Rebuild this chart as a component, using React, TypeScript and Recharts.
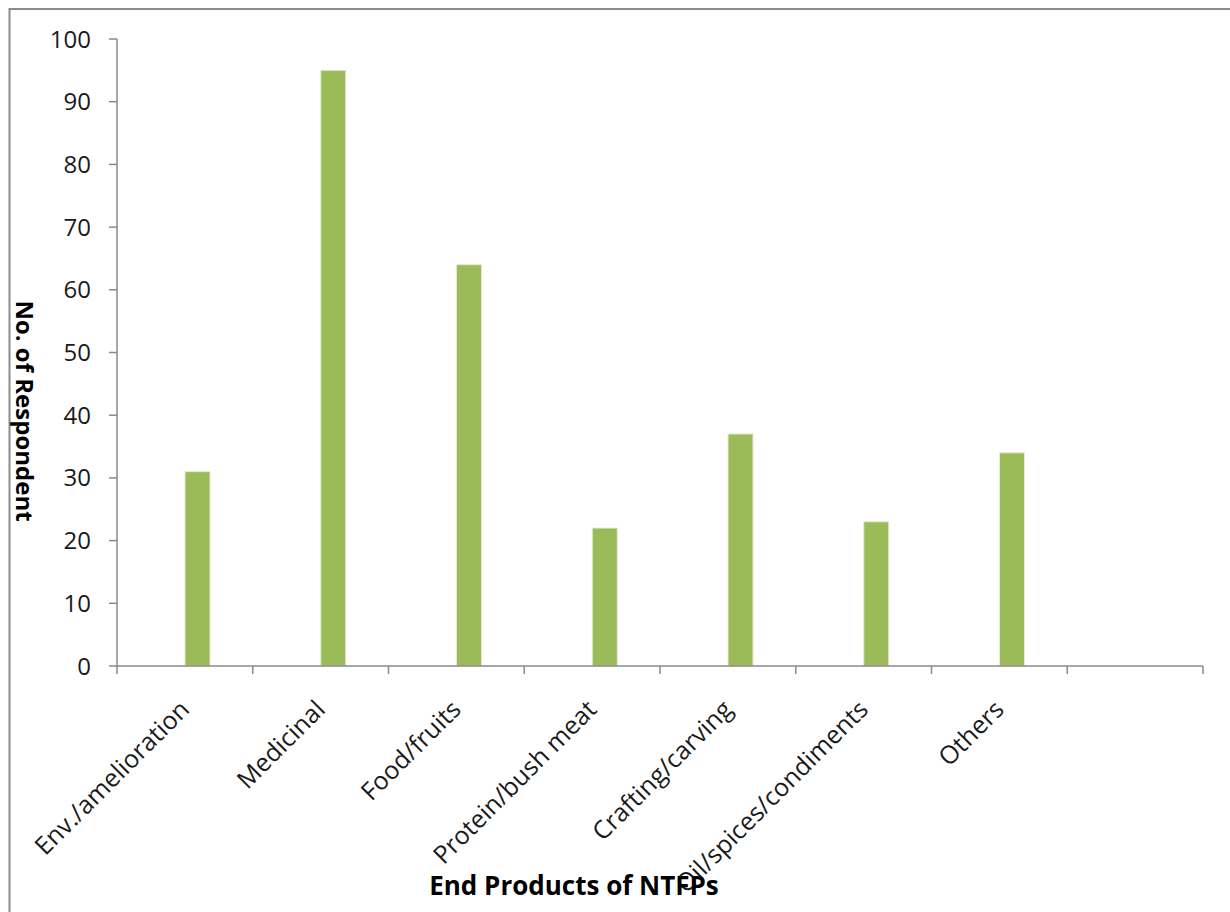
import { BarChart, Bar, XAxis, YAxis } from 'recharts'

const CATEGORIES = [
  'Env./amelioration',
  'Medicinal',
  'Food/fruits',
  'Protein/bush meat',
  'Crafting/carving',
  'Oil/spices/condiments',
  'Others',
  '',
]
// Excel sheet had an empty first series, which pushes the visible bar right of centre
const BLANK_SERIES: (number | null)[] = [null, null, null, null, null, null, null, null]
const RESPONDENTS: (number | null)[] = [31, 95, 64, 22, 37, 23, 34, null]
const Y_TICKS = [0, 10, 20, 30, 40, 50, 60, 70, 80, 90, 100]

const FONT = '"Open Sans", "Noto Sans", sans-serif'
const AXIS = '#8a8a8a'
const GREEN = '#9bbb59'

const data = CATEGORIES.map((name, i) => ({
  name,
  blank: BLANK_SERIES[i],
  value: RESPONDENTS[i],
}))

type TickProps = {
  x?: number
  y?: number
  index?: number
  visibleTicksCount?: number
  payload?: { value?: string; offset?: number }
}

// label rotated 45deg plus Excel-style tick marks on the category boundaries
function CatTick({ x, y, index, visibleTicksCount, payload }: TickProps) {
  if (x == null || y == null) return null
  const half = payload?.offset ?? 0
  const isLast = index === (visibleTicksCount ?? 0) - 1
  const px = x + 6
  const py = y + 45
  return (
    <g>
      <line x1={x - half} x2={x - half} y1={y} y2={y + 8} stroke={AXIS} strokeWidth={1.5} />
      {isLast && <line x1={x + half} x2={x + half} y1={y} y2={y + 8} stroke={AXIS} strokeWidth={1.5} />}
      {payload?.value ? (
        <text x={px} y={py} transform={`rotate(-45 ${px} ${py})`} textAnchor="end" fontSize={25} fill="#1a1a1a" fontFamily={FONT}>
          {payload.value}
        </text>
      ) : null}
    </g>
  )
}

export default function App() {
  return (
    <div style={{ position: 'absolute', left: 0, top: 0, width: 1230, height: 912, background: '#fff', fontFamily: FONT }}>
      <BarChart
        width={1230}
        height={912}
        data={data}
        margin={{ top: 39, right: 27, left: 0, bottom: 38 }}
        barSize={25}
        barGap={0}
      >
        <XAxis
          dataKey="name"
          height={208}
          axisLine={{ stroke: AXIS, strokeWidth: 1.5 }}
          tickLine={false}
          tickSize={0}
          tickMargin={0}
          interval={0}
          tick={<CatTick />}
        />
        <YAxis
          width={117}
          domain={[0, 100]}
          ticks={Y_TICKS}
          tickSize={8}
          tickMargin={18}
          axisLine={{ stroke: AXIS, strokeWidth: 1.5 }}
          tickLine={{ stroke: AXIS, strokeWidth: 1.5 }}
          tick={{ fontSize: 24, fill: '#1a1a1a', fontFamily: FONT }}
        />
        <Bar dataKey="blank" fill="none" isAnimationActive={false} />
        <Bar dataKey="value" fill={GREEN} stroke="#e3ebd0" strokeWidth={1} isAnimationActive={false} />
      </BarChart>
      <svg width={1230} height={912} style={{ position: 'absolute', left: 0, top: 0, pointerEvents: 'none' }}>
        <path d="M 9.5 912 L 9.5 9 L 1230 9" fill="none" stroke="#8c8c8c" strokeWidth={2} />
        <text
          x={16}
          y={411}
          transform="rotate(90 16 411)"
          textAnchor="middle"
          fontSize={24}
          fontWeight="bold"
          fill="#000"
          fontFamily={FONT}
        >
          No. of Respondent
        </text>
        <text x={574} y={895} textAnchor="middle" fontSize={26} fontWeight="bold" fill="#000" fontFamily={FONT}>
          End Products of NTFPs
        </text>
      </svg>
    </div>
  )
}
